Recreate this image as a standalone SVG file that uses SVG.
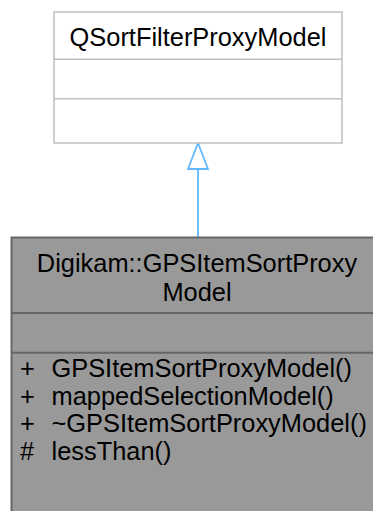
<svg xmlns="http://www.w3.org/2000/svg" width="373" height="511" viewBox="0 0 373 511">
<style>
text { font-family: "Liberation Sans", Arial, sans-serif; font-size: 25.4px; fill: #000; }
.c { text-anchor: middle; }
.base { fill: #ffffff; stroke: #bfbfbf; stroke-width: 1.5; }
.baseline { stroke: #bfbfbf; stroke-width: 1.5; }
.cls { fill: #999999; stroke: #666666; stroke-width: 2; }
.clsline { stroke: #666666; stroke-width: 2; }
.edge { stroke: #63b8ff; stroke-width: 1.8; fill: none; }
.head { stroke: #63b8ff; stroke-width: 1.8; fill: #ffffff; }
</style>
<g id="connectors">
<line class="edge" x1="198" y1="169" x2="198" y2="237"/>
<polygon class="head" points="198,143 188,169 208,169"/>
</g>
<g id="QSortFilterProxyModel">
<rect class="base" x="54" y="12" width="288" height="131"/>
<line class="baseline" x1="54" y1="59.3" x2="342" y2="59.3"/>
<line class="baseline" x1="54" y1="98.7" x2="342" y2="98.7"/>
<text class="c" x="198" y="46">QSortFilterProxyModel</text>
</g>
<g id="GPSItemSortProxyModel">
<rect class="cls" x="11.5" y="237.5" width="380" height="285"/>
<line class="clsline" x1="11.5" y1="313" x2="391" y2="313"/>
<line class="clsline" x1="11.5" y1="352.7" x2="391" y2="352.7"/>
<text class="c" x="197" y="272">Digikam::GPSItemSortProxy</text>
<text class="c" x="197" y="301">Model</text>
<text x="20" y="377">+</text>
<text x="51.5" y="377">GPSItemSortProxyModel()</text>
<text x="20" y="404.5">+</text>
<text x="51.5" y="404.5">mappedSelectionModel()</text>
<text x="20" y="432">+</text>
<text x="51.5" y="432">~GPSItemSortProxyModel()</text>
<text x="20" y="459.5">#</text>
<text x="51.5" y="459.5">lessThan()</text>
</g>
</svg>
